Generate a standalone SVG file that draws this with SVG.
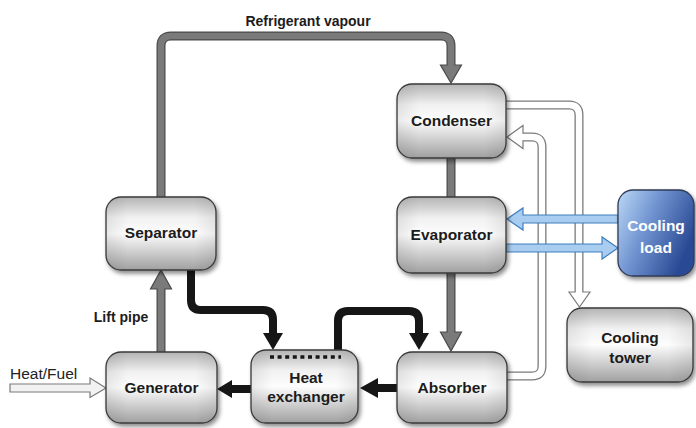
<svg xmlns="http://www.w3.org/2000/svg" width="696" height="428" viewBox="0 0 696 428">
<defs>
<linearGradient id="gbox" x1="0" y1="0" x2="0" y2="1">
<stop offset="0" stop-color="#b4b4b4"/>
<stop offset="0.28" stop-color="#f1f1f1"/>
<stop offset="0.5" stop-color="#fdfdfd"/>
<stop offset="1" stop-color="#a0a0a0"/>
</linearGradient>
<linearGradient id="gside" x1="0" y1="0" x2="1" y2="0">
<stop offset="0" stop-color="#000" stop-opacity="0.08"/>
<stop offset="0.2" stop-color="#000" stop-opacity="0"/>
<stop offset="0.8" stop-color="#000" stop-opacity="0"/>
<stop offset="1" stop-color="#000" stop-opacity="0.08"/>
</linearGradient>
<linearGradient id="gblue" x1="0" y1="0" x2="1" y2="0.5">
<stop offset="0" stop-color="#bcd9f6"/>
<stop offset="0.45" stop-color="#7396d2"/>
<stop offset="1" stop-color="#2b4a95"/>
</linearGradient>
<filter id="sh" x="-20%" y="-20%" width="140%" height="150%">
<feDropShadow dx="2" dy="3" stdDeviation="2" flood-color="#000" flood-opacity="0.45"/>
</filter>
</defs>
<style>
.box{fill:url(#gbox);stroke:#3a3a3a;stroke-width:1.3;filter:url(#sh)}
.side{fill:url(#gside);stroke:none}
.lbl{font-family:"Liberation Sans",Arial,sans-serif;font-weight:bold;font-size:15.5px;fill:#1c1c1c;text-anchor:middle}
.wlbl{fill:#fff}
.cap{font-family:"Liberation Sans",Arial,sans-serif;font-weight:bold;font-size:14px;fill:#1c1c1c}
.reg{font-family:"Liberation Sans",Arial,sans-serif;font-size:15.5px;fill:#222}
.gout{fill:none;stroke:#4a4a4a;stroke-width:9}
.gin{fill:none;stroke:#7a7a7a;stroke-width:6.6}
.ghead{fill:#7a7a7a;stroke:#4a4a4a;stroke-width:1.2;stroke-linejoin:miter}
.blk{fill:none;stroke:#161616;stroke-width:8}
.bhead{fill:#161616;stroke:none}
.wout{fill:none;stroke:#7a7a7a;stroke-width:9}
.win{fill:none;stroke:#ffffff;stroke-width:6.4}
.whead{fill:#ffffff;stroke:#7a7a7a;stroke-width:1.2}
.blue{fill:#a9cdf0;stroke:#3f7fc0;stroke-width:1.2}
</style>

<g id="connectors">
<path class="gout" d="M161,197 V46 Q161,36 171,36 H441 Q451,36 451,46 V66"/>
<polygon class="ghead" points="440.5,65 461.5,65 451,83"/>
<path class="gin" d="M161,197 V46 Q161,36 171,36 H441 Q451,36 451,46 V67"/>
<path class="gout" d="M451,158 V197"/>
<path class="gin" d="M451,157 V198"/>
<path class="gout" d="M451,272 V333"/>
<polygon class="ghead" points="440.5,332 461.5,332 451,351"/>
<path class="gin" d="M451,271 V334"/>
<path class="gout" d="M161,353 V288"/>
<polygon class="ghead" points="150.5,289 171.5,289 161,270"/>
<path class="gin" d="M161,353 V287"/>

<path class="blk" d="M191,270 V300 Q191,310 201,310 H263 Q273,310 273,320 V334"/>
<polygon class="bhead" points="263,333 283,333 273,350"/>
<path class="blk" d="M338,351 V321 Q338,311 348,311 H409 Q419,311 419,321 V334"/>
<polygon class="bhead" points="409,333 429,333 419,350"/>
<path class="blk" d="M398,388 H376"/>
<polygon class="bhead" points="378,378 378,398 360,388"/>
<path class="blk" d="M252,389 H230"/>
<polygon class="bhead" points="232,380 232,398 217,389"/>

<path class="wout" d="M506,105 H569 Q579,105 579,115 V293"/>
<polygon class="whead" points="569,292 590,292 579.5,307"/>
<path class="win" d="M505,105 H569 Q579,105 579,115 V294"/>
<path class="wout" d="M507,376 H532 Q542,376 542,366 V147 Q542,137 532,137 H522"/>
<polygon class="whead" points="523,125.5 523,148.5 507,137"/>
<path class="win" d="M506,376 H532 Q542,376 542,366 V147 Q542,137 532,137 H521"/>

<polygon class="whead" points="10,384 90,384 90,378 106,388 90,397.5 90,392 10,392" style="fill:#f2f2f2"/>

<polygon class="blue" points="618,215 523,215 523,208 507,219 523,230 523,223 618,223"/>
<polygon class="blue" points="506,244 602,244 602,237 618,248 602,259 602,252 506,252"/>
</g>

<g id="condenser">
<rect class="box" x="397" y="84" width="109" height="74" rx="15"/>
<rect class="side" x="397" y="84" width="109" height="74" rx="15"/>
<text class="lbl" x="451.5" y="126">Condenser</text>
</g>
<g id="evaporator">
<rect class="box" x="397" y="197" width="109" height="76" rx="15"/>
<rect class="side" x="397" y="197" width="109" height="76" rx="15"/>
<text class="lbl" x="451.5" y="240">Evaporator</text>
</g>
<g id="separator">
<rect class="box" x="106" y="197" width="110" height="73" rx="15"/>
<rect class="side" x="106" y="197" width="110" height="73" rx="15"/>
<text class="lbl" x="161" y="238">Separator</text>
</g>
<g id="generator">
<rect class="box" x="106" y="352" width="111" height="71" rx="15"/>
<rect class="side" x="106" y="352" width="111" height="71" rx="15"/>
<text class="lbl" x="161.5" y="393">Generator</text>
</g>
<g id="heat-exchanger">
<rect class="box" x="251" y="350" width="107" height="73" rx="15"/>
<rect class="side" x="251" y="350" width="107" height="73" rx="15"/>
<path d="M270,357 H341" stroke="#161616" stroke-width="3.5" stroke-dasharray="4,3.6" fill="none"/>
<text class="lbl" x="306" y="383">Heat</text>
<text class="lbl" x="306" y="402">exchanger</text>
</g>
<g id="absorber">
<rect class="box" x="397" y="352" width="110" height="71" rx="15"/>
<rect class="side" x="397" y="352" width="110" height="71" rx="15"/>
<text class="lbl" x="452" y="393">Absorber</text>
</g>
<g id="cooling-load">
<rect x="618" y="190" width="76" height="86" rx="15" fill="url(#gblue)" stroke="#2f3a55" stroke-width="1.3" filter="url(#sh)"/>
<text class="lbl wlbl" x="656" y="231">Cooling</text>
<text class="lbl wlbl" x="656" y="253">load</text>
</g>
<g id="cooling-tower">
<rect class="box" x="567" y="308" width="126" height="74" rx="15"/>
<rect class="side" x="567" y="308" width="126" height="74" rx="15"/>
<text class="lbl" x="630" y="343">Cooling</text>
<text class="lbl" x="630" y="363">tower</text>
</g>

<g id="labels">
<text class="cap" x="308" y="26" text-anchor="middle">Refrigerant vapour</text>
<text class="cap" x="121" y="322" text-anchor="middle">Lift pipe</text>
<text class="reg" x="10" y="379">Heat/Fuel</text>
</g>
</svg>
